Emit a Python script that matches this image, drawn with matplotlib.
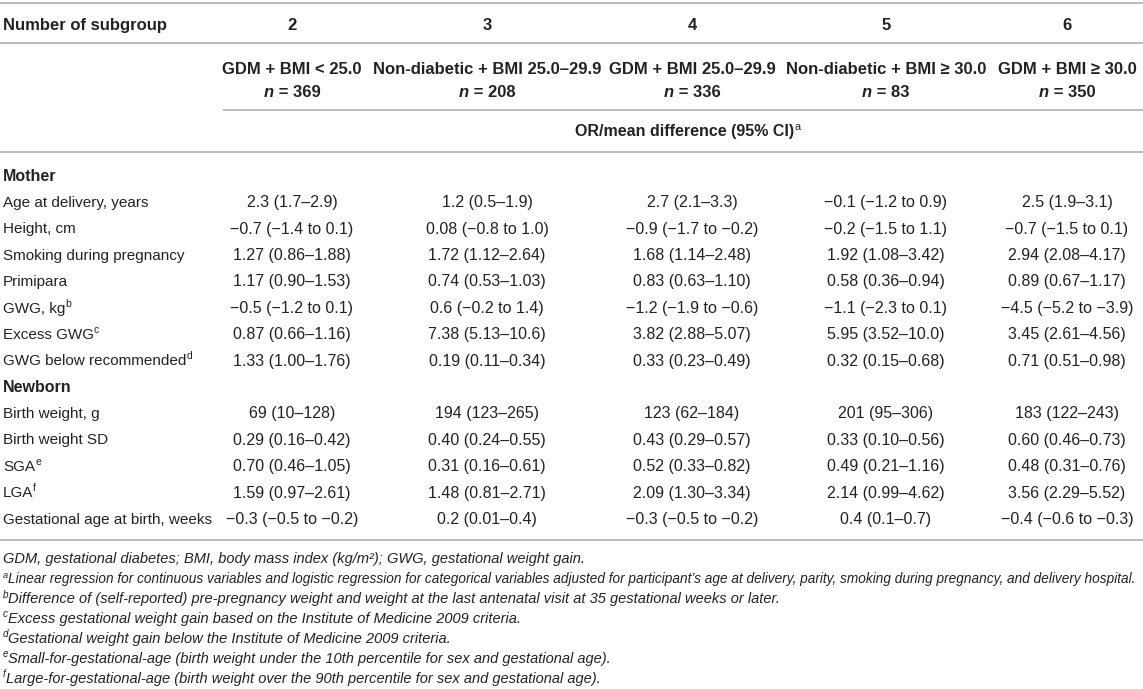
import matplotlib
matplotlib.use('Agg')
import matplotlib.pyplot as plt

plt.rcParams['font.family'] = ['Liberation Sans', 'DejaVu Sans']

INK = '#222222'
RULE = '#b5b5b5'
FS = 11.0      # row labels, points
FV = 11.5      # cell values
FH = 12.0      # bold header
FO = 11.5      # "OR/mean difference" line
FN = 10.5      # footnotes

# ---- data -------------------------------------------------------------
subgroups = ['2', '3', '4', '5', '6']
group_names = ['GDM + BMI < 25.0', 'Non-diabetic + BMI 25.0\u201329.9',
               'GDM + BMI 25.0\u201329.9', 'Non-diabetic + BMI \u2265 30.0',
               'GDM + BMI \u2265 30.0']
group_n = ['369', '208', '336', '83', '350']

mother_labels = ['Age at delivery, years', 'Height, cm', 'Smoking during pregnancy',
                 'Primipara', 'GWG, kg', 'Excess GWG', 'GWG below recommended']
mother_sups = ['', '', '', '', 'b', 'c', 'd']
newborn_labels = ['Birth weight, g', 'Birth weight SD', 'SGA', 'LGA',
                  'Gestational age at birth, weeks']
newborn_sups = ['', '', 'e', 'f', '']

M = '\u2212'
D = '\u2013'
sub2 = ['2.3 (1.7%s2.9)' % D, M + '0.7 (' + M + '1.4 to 0.1)', '1.27 (0.86%s1.88)' % D,
        '1.17 (0.90%s1.53)' % D, M + '0.5 (' + M + '1.2 to 0.1)', '0.87 (0.66%s1.16)' % D,
        '1.33 (1.00%s1.76)' % D,
        '69 (10%s128)' % D, '0.29 (0.16%s0.42)' % D, '0.70 (0.46%s1.05)' % D,
        '1.59 (0.97%s2.61)' % D, M + '0.3 (' + M + '0.5 to ' + M + '0.2)']
sub3 = ['1.2 (0.5%s1.9)' % D, '0.08 (' + M + '0.8 to 1.0)', '1.72 (1.12%s2.64)' % D,
        '0.74 (0.53%s1.03)' % D, '0.6 (' + M + '0.2 to 1.4)', '7.38 (5.13%s10.6)' % D,
        '0.19 (0.11%s0.34)' % D,
        '194 (123%s265)' % D, '0.40 (0.24%s0.55)' % D, '0.31 (0.16%s0.61)' % D,
        '1.48 (0.81%s2.71)' % D, '0.2 (0.01%s0.4)' % D]
sub4 = ['2.7 (2.1%s3.3)' % D, M + '0.9 (' + M + '1.7 to ' + M + '0.2)', '1.68 (1.14%s2.48)' % D,
        '0.83 (0.63%s1.10)' % D, M + '1.2 (' + M + '1.9 to ' + M + '0.6)', '3.82 (2.88%s5.07)' % D,
        '0.33 (0.23%s0.49)' % D,
        '123 (62%s184)' % D, '0.43 (0.29%s0.57)' % D, '0.52 (0.33%s0.82)' % D,
        '2.09 (1.30%s3.34)' % D, M + '0.3 (' + M + '0.5 to ' + M + '0.2)']
sub5 = [M + '0.1 (' + M + '1.2 to 0.9)', M + '0.2 (' + M + '1.5 to 1.1)', '1.92 (1.08%s3.42)' % D,
        '0.58 (0.36%s0.94)' % D, M + '1.1 (' + M + '2.3 to 0.1)', '5.95 (3.52%s10.0)' % D,
        '0.32 (0.15%s0.68)' % D,
        '201 (95%s306)' % D, '0.33 (0.10%s0.56)' % D, '0.49 (0.21%s1.16)' % D,
        '2.14 (0.99%s4.62)' % D, '0.4 (0.1%s0.7)' % D]
sub6 = ['2.5 (1.9%s3.1)' % D, M + '0.7 (' + M + '1.5 to 0.1)', '2.94 (2.08%s4.17)' % D,
        '0.89 (0.67%s1.17)' % D, M + '4.5 (' + M + '5.2 to ' + M + '3.9)', '3.45 (2.61%s4.56)' % D,
        '0.71 (0.51%s0.98)' % D,
        '183 (122%s243)' % D, '0.60 (0.46%s0.73)' % D, '0.48 (0.31%s0.76)' % D,
        '3.56 (2.29%s5.52)' % D, M + '0.4 (' + M + '0.6 to ' + M + '0.3)']
columns = [sub2, sub3, sub4, sub5, sub6]

footnotes = [
    ('', 'GDM, gestational diabetes; BMI, body mass index (kg/m\u00b2); GWG, gestational weight gain.'),
    ('a', 'Linear regression for continuous variables and logistic regression for categorical variables '
          'adjusted for participant\u2019s age at delivery, parity, smoking during pregnancy, and delivery hospital.'),
    ('b', 'Difference of (self-reported) pre-pregnancy weight and weight at the last antenatal visit '
          'at 35 gestational weeks or later.'),
    ('c', 'Excess gestational weight gain based on the Institute of Medicine 2009 criteria.'),
    ('d', 'Gestational weight gain below the Institute of Medicine 2009 criteria.'),
    ('e', 'Small-for-gestational-age (birth weight under the 10th percentile for sex and gestational age).'),
    ('f', 'Large-for-gestational-age (birth weight over the 90th percentile for sex and gestational age).'),
]

# ---- layout (pixels) --------------------------------------------------
W, H = 1143, 689
col_x = [292, 487, 692, 886, 1067]
left_x = 3
y_sub, y_name, y_n, y_or = 24, 68, 91, 130
y_mother = 175
step = 26.4
y_foot0, foot_step = 558, 19.9

fig = plt.figure(figsize=(W / 100, H / 100), dpi=100)
ax = fig.add_axes([0, 0, 1, 1])
ax.set_xlim(0, W)
ax.set_ylim(H, 0)
ax.axis('off')
rend = fig.canvas.get_renderer()


def runs(x, yc, parts, ha='left', size=FS):
    """parts: (text, weight, style, is_sup). yc = vertical centre of caps."""
    px = size * 100 / 72
    base = yc + 0.36 * px
    arts = []
    for s, w, st, sup in parts:
        fs = size * 0.68 if sup else size
        yy = base - 0.38 * px if sup else base
        t = ax.text(0, yy, s, fontsize=fs, fontweight=w, fontstyle=st,
                    va='baseline', ha='left', color=INK)
        arts.append(t)
    widths = [t.get_window_extent(rend).width for t in arts]
    x0 = x - sum(widths) / 2 if ha == 'center' else x
    for t, wd in zip(arts, widths):
        t.set_x(x0)
        x0 += wd
    return sum(widths)


def rule(y, x0=0, x1=W):
    ax.plot([x0, x1], [y, y], color=RULE, lw=1.3, solid_capstyle='butt')


# header
rule(2.5)
runs(left_x, y_sub, [('Number of subgroup', 'bold', 'normal', False)], size=FH)
for cx, s in zip(col_x, subgroups):
    runs(cx, y_sub, [(s, 'bold', 'normal', False)], ha='center', size=FH)
rule(43)
for cx, nm, n in zip(col_x, group_names, group_n):
    runs(cx, y_name, [(nm, 'bold', 'normal', False)], ha='center', size=FH)
    runs(cx, y_n, [('n', 'bold', 'italic', False),
                   (' = ' + n, 'bold', 'normal', False)], ha='center', size=FH)
rule(110, 223)
runs(col_x[2] - 4, y_or, [('OR/mean difference (95% CI)', 'bold', 'normal', False),
                          ('a', 'normal', 'normal', True)], ha='center', size=FO)
rule(152)

# body
y = y_mother
runs(left_x, y, [('Mother', 'bold', 'normal', False)], size=FV)
row = 0
for lab, sp in zip(mother_labels, mother_sups):
    y += step
    runs(left_x, y, [(lab, 'normal', 'normal', False), (sp, 'normal', 'normal', True)])
    for cx, col in zip(col_x, columns):
        runs(cx, y, [(col[row], 'normal', 'normal', False)], ha='center', size=FV)
    row += 1
y += step
runs(left_x, y, [('Newborn', 'bold', 'normal', False)], size=FV)
for lab, sp in zip(newborn_labels, newborn_sups):
    y += step
    runs(left_x, y, [(lab, 'normal', 'normal', False), (sp, 'normal', 'normal', True)])
    for cx, col in zip(col_x, columns):
        runs(cx, y, [(col[row], 'normal', 'normal', False)], ha='center', size=FV)
    row += 1
rule(y + 22)

# footnotes (the long one is shrunk to fit the width)
for i, (sp, txt) in enumerate(footnotes):
    yy = y_foot0 + i * foot_step
    size = FN
    parts = [(sp, 'normal', 'italic', True)] if sp else []
    parts.append((txt, 'normal', 'italic', False))
    while True:
        w = runs(-5000, yy, parts, size=size)
        for t in ax.texts[-len(parts):]:
            t.remove()
        if w <= W - 6 or size < 7:
            break
        size -= 0.1
    runs(left_x, yy, parts, size=size)

fig.savefig('out.png', dpi=100, facecolor='white')
